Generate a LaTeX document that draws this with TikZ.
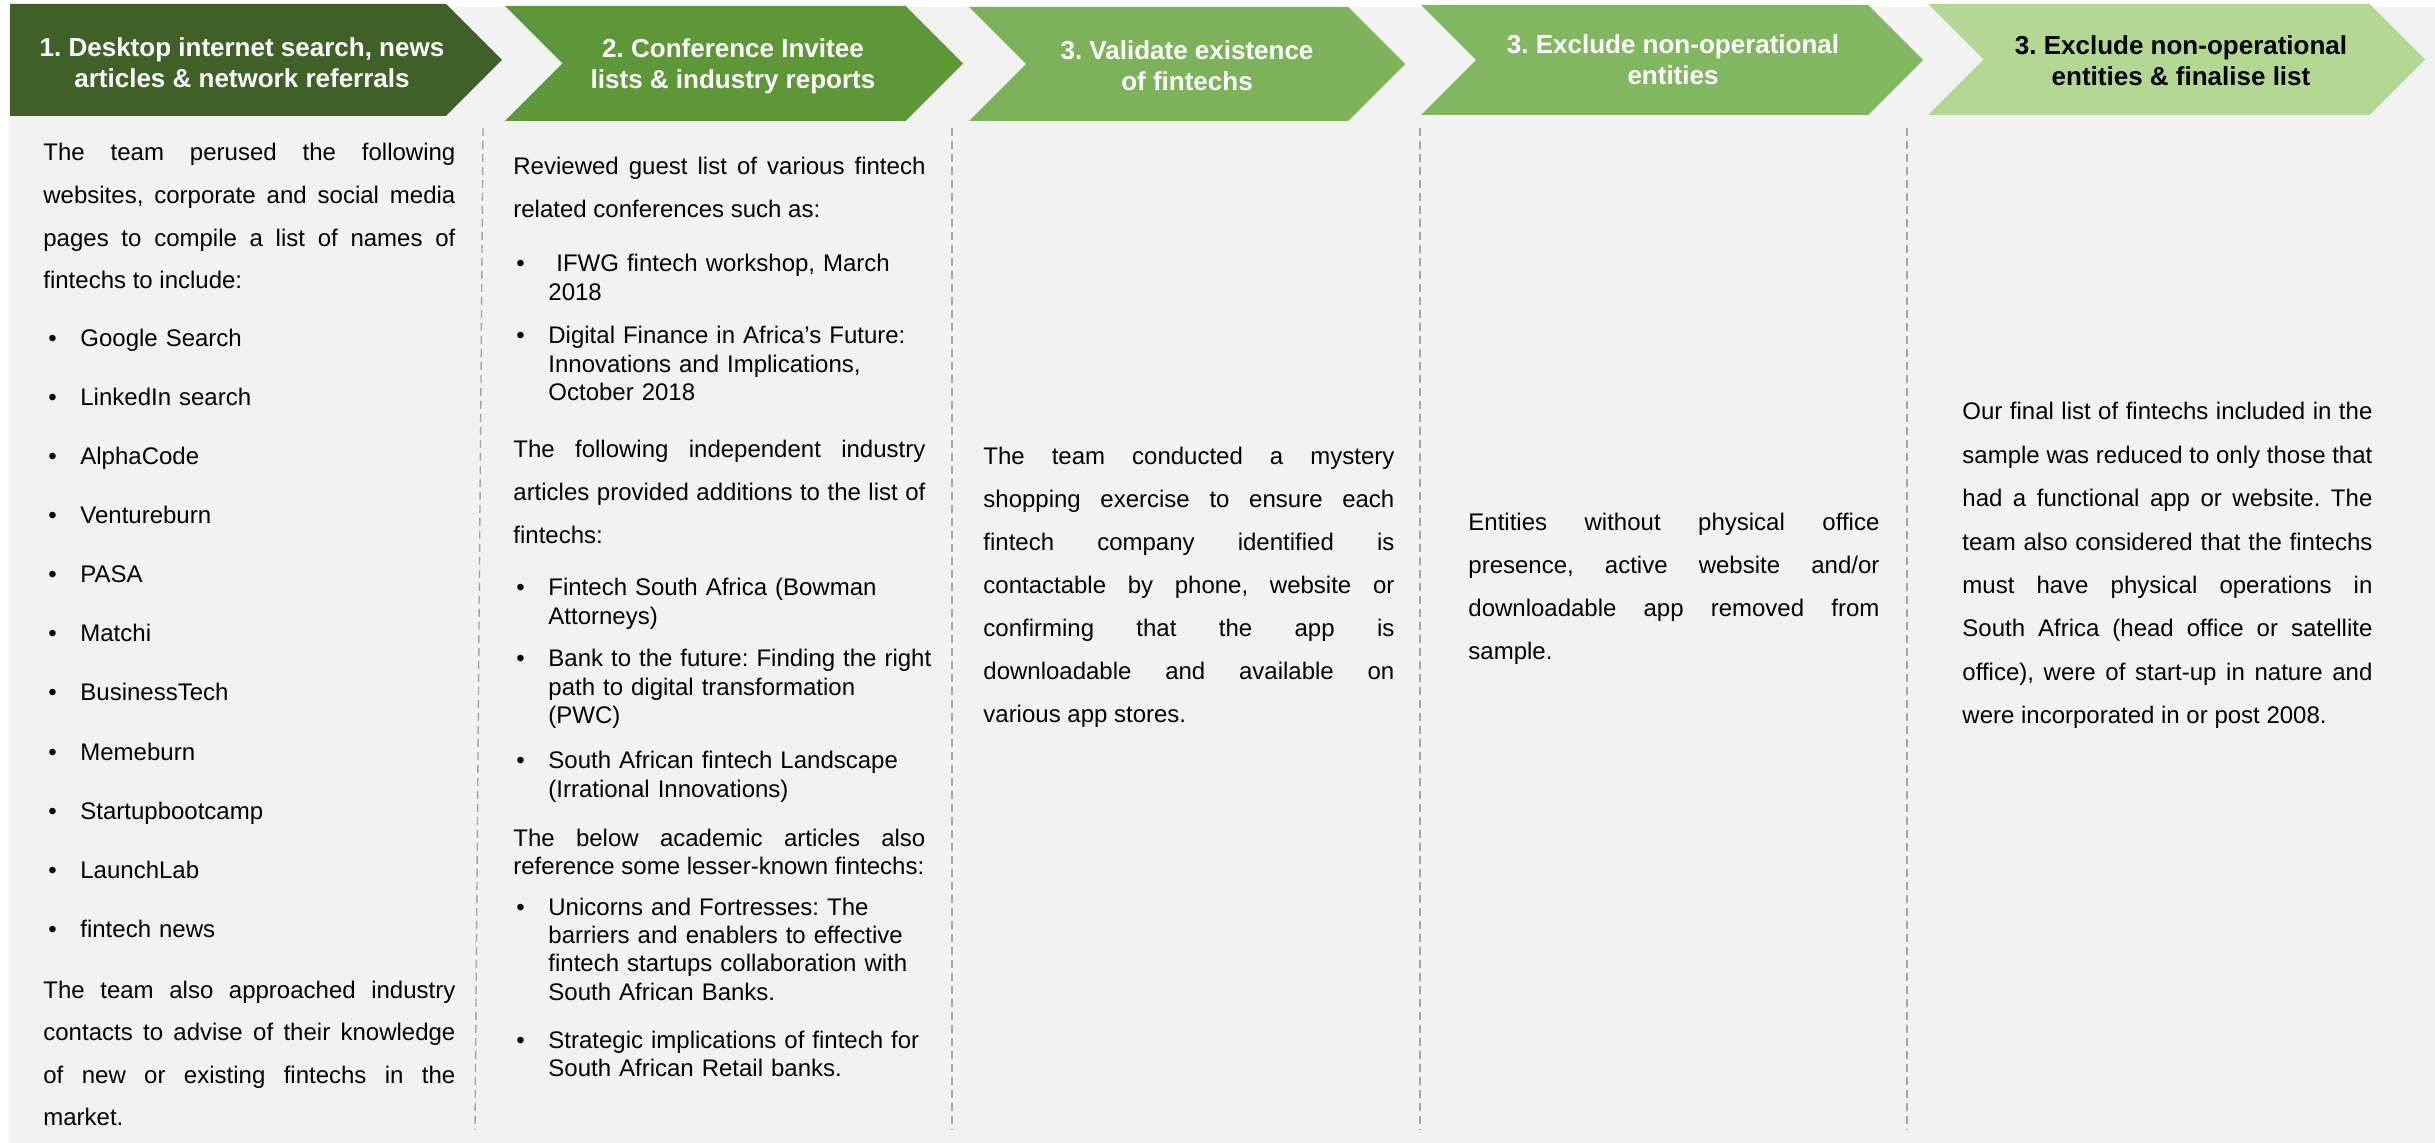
\documentclass[tikz,border=0pt]{standalone}
\usepackage{fontspec}
\setmainfont{Liberation Sans}
\usetikzlibrary{positioning}
\definecolor{stepone}{HTML}{3F6128}
\definecolor{steptwo}{HTML}{5E9737}
\definecolor{stepthree}{HTML}{7DB25A}
\definecolor{stepfour}{HTML}{82B762}
\definecolor{stepfive}{HTML}{B3D894}
\definecolor{panel}{HTML}{F2F2F2}
\definecolor{divgray}{HTML}{A5A5A5}
\frenchspacing

\begin{document}
\begin{tikzpicture}[x=0.5pt, y=-0.5pt,
  head/.style={font={\fontsize{13}{15.3}\selectfont\bfseries}, align=center, inner sep=0pt},
  para/.style={font={\fontsize{12}{21.3}\selectfont\tolerance=10000\hyphenpenalty=10000}, align=justify, inner sep=0pt, anchor=base west},
  bul/.style={font={\fontsize{12}{14.2}\selectfont}, inner sep=0pt, anchor=base west},
  itemtxt/.style={font={\fontsize{12}{14.2}\selectfont}, align=left, inner sep=0pt, anchor=base west, text width=196pt},
  divider/.style={draw=divgray, line width=0.7pt, dash pattern=on 4pt off 2.5pt}]
  \useasboundingbox (0,0) rectangle (2435,1143);
  \fill[panel] (9,7) rectangle (2435,1143);

  \foreach \l/\t/\a/\b/\n/\col in {10/502/4/116/0/stepone, 505/963/6/121/1/steptwo,
      969/1405/7/121/1/stepthree, 1421/1923/5/115/1/stepfour, 1928/2425/4/115/1/stepfive}{
    \pgfmathsetmacro{\hh}{(\b-\a)/2}
    \pgfmathsetmacro{\my}{(\b+\a)/2}
    \fill[\col] (\l,\a) -- (\t-\hh,\a) -- (\t,\my) -- (\t-\hh,\b) -- (\l,\b) -- (\l+\n*\hh,\my) -- cycle;
  }

  \node[head, text=white] (head1) at (242,63) {1. Desktop internet search, news\\articles \& network referrals};
  \node[head, text=white] (head2) at (733,66) {2. Conference Invitee\\lists \& industry reports};
  \node[head, text=white] (head3) at (1187,66) {3. Validate existence\\of fintechs};
  \node[head, text=white] (head4) at (1673,60) {3. Exclude non-operational\\entities};
  \node[head, text=black] (head5) at (2181,61) {3. Exclude non-operational\\entities \& finalise list};

  \draw[divider] (483,128) -- (475,1130);
  \draw[divider] (952,128) -- (952,1130);
  \draw[divider] (1420,128) -- (1420,1130);
  \draw[divider] (1907,128) -- (1907,1130);

  \node[para, text width=206pt] (srcintro) at (43,161) {The team perused the following\linebreak websites, corporate and social media\linebreak pages to compile a list of names of\linebreak fintechs to include:};
  \foreach \name [count=\k from 0] in {Google Search, LinkedIn search, AlphaCode, Ventureburn, PASA,
      Matchi, BusinessTech, Memeburn, Startupbootcamp, LaunchLab, fintech news}{
    \node[bul] (srcdot\k) at (48,347+59*\k) {\textbullet};
    \node[itemtxt] (src\k) at (80,347+59*\k) {\name};
  }
  \node[para, text width=206pt] (srcoutro) at (43,998) {The team also approached industry\linebreak contacts to advise of their knowledge\linebreak of new or existing fintechs in the\linebreak market.};

  \node[para, text width=206pt] (confintro) at (513,175) {Reviewed guest list of various fintech\linebreak related conferences such as:};
  \foreach \nm/\y/\txt in {conf1/272/{\hspace{4pt}IFWG fintech workshop, March\\2018},
      conf2/344/{Digital Finance in Africa’s Future:\\Innovations and Implications,\\October 2018}}{
    \node[bul] (\nm dot) at (516,\y) {\textbullet};
    \node[itemtxt] (\nm) at (548,\y) {\txt};
  }
  \node[para, text width=206pt] (repintro) at (513,458) {The following independent industry\linebreak articles provided additions to the list of\linebreak fintechs:};
  \foreach \nm/\y/\txt in {rep1/596/{Fintech South Africa (Bowman\\Attorneys)},
      rep2/667/{Bank to the future: Finding the right\\path to digital transformation\\(PWC)},
      rep3/769/{South African fintech Landscape\\(Irrational Innovations)}}{
    \node[bul] (\nm dot) at (516,\y) {\textbullet};
    \node[itemtxt] (\nm) at (548,\y) {\txt};
  }
  \node[para, font={\fontsize{12}{14}\selectfont\tolerance=10000}, text width=206pt] (acadintro) at (513,846) {The below academic articles also\linebreak reference some lesser-known fintechs:};
  \foreach \nm/\y/\txt in {acad1/915/{Unicorns and Fortresses: The\\barriers and enablers to effective\\fintech startups collaboration with\\South African Banks.},
      acad2/1048/{Strategic implications of fintech for\\South African Retail banks.}}{
    \node[bul] (\nm dot) at (516,\y) {\textbullet};
    \node[itemtxt] (\nm) at (548,\y) {\txt};
  }

  \node[para, font={\fontsize{12}{21.5}\selectfont\tolerance=10000}, text width=205.5pt] (validate) at (983,465) {The team conducted a mystery\linebreak shopping exercise to ensure each\linebreak fintech company identified is\linebreak contactable by phone, website or\linebreak confirming that the app is\linebreak downloadable and available on\linebreak various app stores.};

  \node[para, font={\fontsize{12}{21.5}\selectfont\tolerance=10000}, text width=205.5pt] (exclude) at (1468,531) {Entities without physical office\linebreak presence, active website and/or\linebreak downloadable app removed from\linebreak sample.};

  \node[para, font={\fontsize{12}{21.7}\selectfont\tolerance=10000}, text width=205pt] (final) at (1962,420) {Our final list of fintechs included in the\linebreak sample was reduced to only those that\linebreak had a functional app or website. The\linebreak team also considered that the fintechs\linebreak must have physical operations in\linebreak South Africa (head office or satellite\linebreak office), were of start-up in nature and\linebreak were incorporated in or post 2008.};
\end{tikzpicture}
\end{document}
